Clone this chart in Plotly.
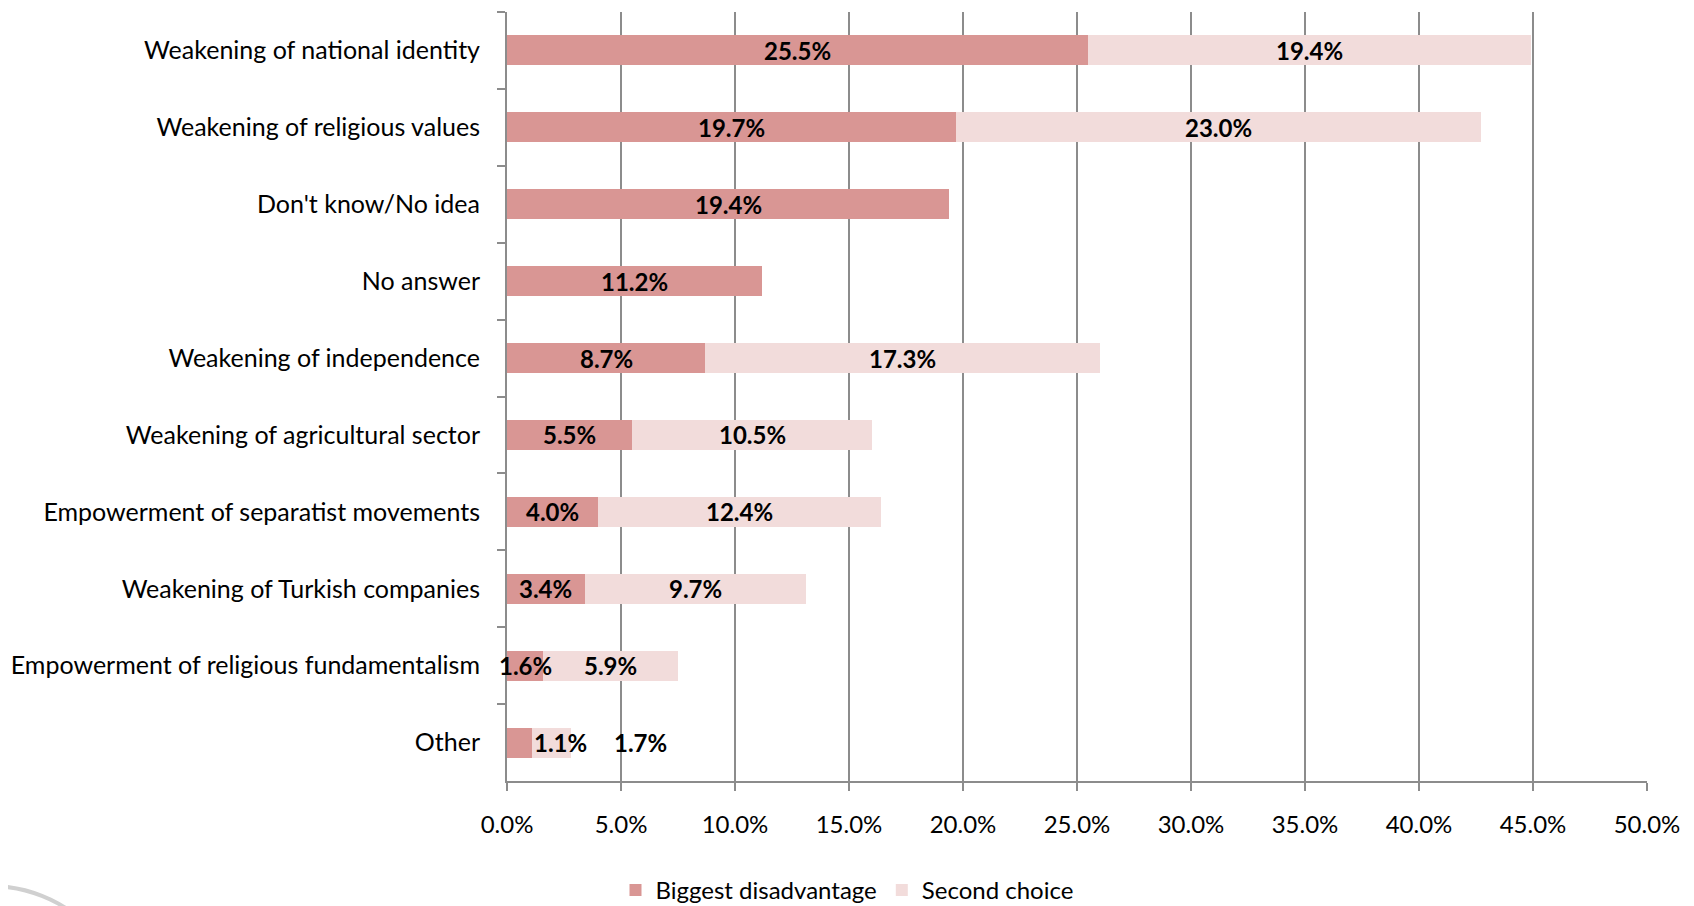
import plotly.graph_objects as go

categories = [
    "Weakening of national identity",
    "Weakening of religious values",
    "Don't know/No idea",
    "No answer",
    "Weakening of independence",
    "Weakening of agricultural sector",
    "Empowerment of separatist movements",
    "Weakening of Turkish companies",
    "Empowerment of religious fundamentalism",
    "Other",
]
biggest = [25.5, 19.7, 19.4, 11.2, 8.7, 5.5, 4.0, 3.4, 1.6, 1.1]
second = [19.4, 23.0, None, None, 17.3, 10.5, 12.4, 9.7, 5.9, 1.7]
x_ticks = [0, 5, 10, 15, 20, 25, 30, 35, 40, 45, 50]

FONT = "Lato"
FS_CAT = 25
FS_TICK = 24
FS_LBL = 24
FS_LEG = 24
DARK = "#D99694"
LIGHT = "#F2DCDB"
GRID = "#8C8C8C"

# the page body adds an 8px margin
OFF = 8
W, H = 1694 - 2 * OFF, 905
PL, PT, PW, PH = 507 - OFF, 12 - OFF, 1140, 769
L, T = PL, PT
R, B = W - PL - PW, H - PT - PH

shifted_row = "Other"
lblfont = dict(family=FONT, size=FS_LBL, color="black")

fig = go.Figure()
fig.add_trace(go.Bar(
    name="Biggest disadvantage", y=categories, x=biggest, orientation="h",
    marker=dict(color=DARK, line=dict(width=0)), hoverinfo="skip",
))
fig.add_trace(go.Bar(
    name="Second choice", y=categories, x=second, orientation="h",
    marker=dict(color=LIGHT, line=dict(width=0)), hoverinfo="skip",
))

# data labels centred on each segment (drawn above bars and axes)
for c, b, s in zip(categories, biggest, second):
    if c == shifted_row:
        # in the original these two labels sit beside the short bars
        fig.add_annotation(x=b, y=c, text=f"<b>{b:.1f}%</b>", showarrow=False,
                           xanchor="left", xshift=0, font=lblfont)
        fig.add_annotation(x=b + s, y=c, text=f"<b>{s:.1f}%</b>", showarrow=False,
                           xanchor="left", xshift=41, font=lblfont)
        continue
    fig.add_annotation(x=b / 2, y=c, text=f"<b>{b:.1f}%</b>", showarrow=False,
                       xanchor="center", font=lblfont)
    if s is not None:
        fig.add_annotation(x=b + s / 2, y=c, text=f"<b>{s:.1f}%</b>", showarrow=False,
                           xanchor="center", font=lblfont)

# decorative arc in the lower-left corner (page pixel coordinates)
def px(x): return (x - OFF - PL) / PW
def py(y): return (PT + PH - (y - OFF)) / PH
fig.add_shape(type="circle", xref="paper", yref="paper",
              x0=px(-151), x1=px(131), y0=py(886), y1=py(1168),
              line=dict(color="#D0D0D0", width=4), layer="above")

fig.update_layout(
    width=W, height=H,
    margin=dict(l=L, r=R, t=T, b=B, autoexpand=False),
    barmode="stack", bargap=0.61,
    plot_bgcolor="white", paper_bgcolor="white",
    font=dict(family=FONT, size=FS_CAT, color="black"),
    legend=dict(orientation="h", xref="container", yref="container",
                x=0.5, xanchor="center", y=0.0, yanchor="bottom",
                traceorder="normal",
                font=dict(family=FONT, size=FS_LEG, color="black"),
                itemclick=False, itemdoubleclick=False),
    xaxis=dict(range=[0, 50], tickvals=x_ticks,
               ticktext=[f"{v:.1f}%" for v in x_ticks],
               showgrid=True, gridcolor=GRID, gridwidth=1.5,
               showline=True, linecolor=GRID, linewidth=2,
               ticks="outside", ticklen=8, tickcolor=GRID, tickwidth=1.5,
               zeroline=False, ticklabelstandoff=13, automargin=False,
               tickfont=dict(family=FONT, size=FS_TICK, color="black")),
    yaxis=dict(categoryorder="array", categoryarray=categories,
               autorange="reversed", tickson="boundaries",
               showline=True, linecolor=GRID, linewidth=2,
               ticks="outside", ticklen=8, tickcolor=GRID, tickwidth=1.5,
               showgrid=False, ticklabelstandoff=20, automargin=False,
               tickfont=dict(family=FONT, size=FS_CAT, color="black")),
)

fig.write_html("out.html")
